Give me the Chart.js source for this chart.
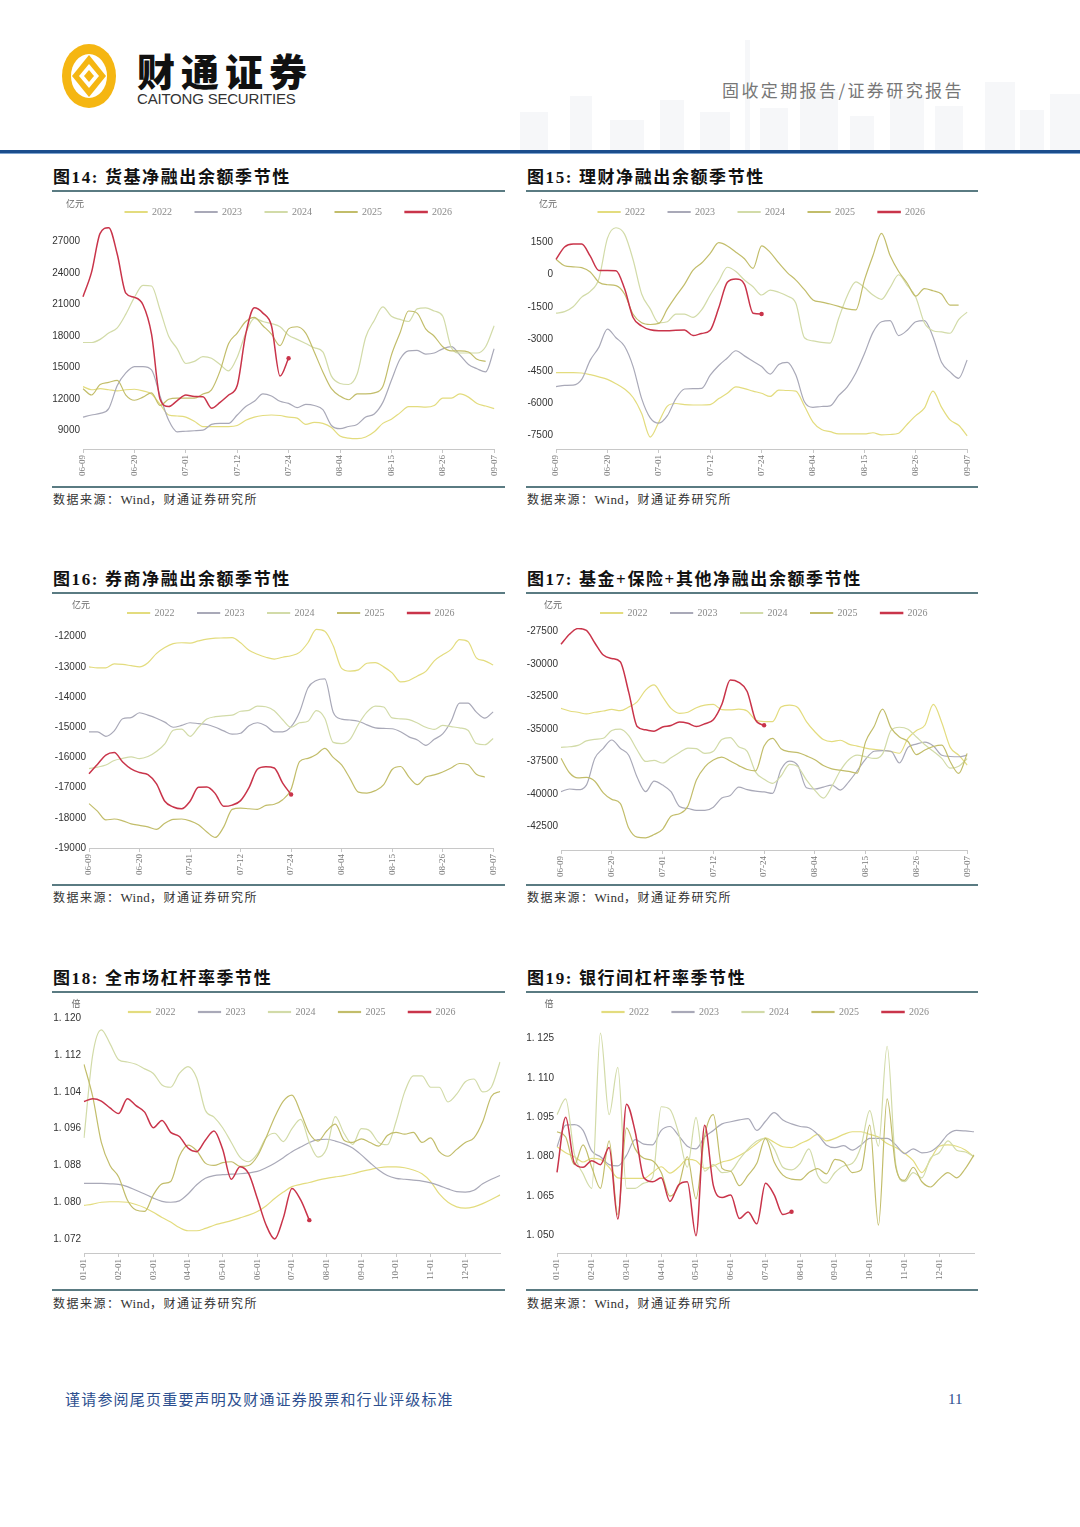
<!DOCTYPE html>
<html>
<head>
<meta charset="utf-8">
<script src="https://cdn.jsdelivr.net/npm/chart.js@4.4.1/dist/chart.umd.min.js"></script>
<style>
  body { margin: 0; background: #fff; }
  #page { position: relative; width: 1080px; height: 1527px; overflow: hidden; background: #fff;
          font-family: "Liberation Serif", "Noto Sans CJK SC", serif; }
  .abs { position: absolute; }
  .title { font-size: 17px; font-weight: 700; color: #111; letter-spacing: 1.6px; line-height: 20px; white-space: nowrap; }
  .rule { height: 1.5px; background: #5a7b82; }
  .src { font-size: 12px; color: #333; letter-spacing: 1.5px; line-height: 14px; white-space: nowrap; }
  .src span { letter-spacing: 0.3px; font-size: 13px; }
  .bld { background: #f6f7f9; }
  canvas { position: absolute; }
</style>
</head>
<body>
<div id="page">
  <!-- header -->
  <div id="sky"></div>
  <svg class="abs" style="left:60px;top:42px" width="58" height="68" viewBox="0 0 58 68">
    <ellipse cx="29" cy="34" rx="27" ry="32" fill="#f5b612"/>
    <ellipse cx="29" cy="34" rx="18" ry="22" fill="#fff"/>
    <path d="M29 13 L46 34 L29 55 L12 34Z" fill="#f5b612"/>
    <path d="M29 22 L39 34 L29 46 L19 34Z" fill="#fff"/>
    <path d="M29 28 L34 34 L29 40 L24 34Z" fill="#f5b612"/>
  </svg>
  <div class="abs" style="left:137px;top:50px;font-size:38px;line-height:40px;font-weight:900;letter-spacing:6px;color:#111;font-family:'Noto Sans CJK SC'">财通证券</div>
  <div class="abs" style="left:137px;top:91px;font-size:15px;line-height:16px;color:#333;letter-spacing:-0.2px;font-family:'Liberation Sans'">CAITONG SECURITIES</div>
  <div class="abs" style="left:722px;top:80px;font-size:17px;line-height:20px;color:#777;letter-spacing:2.4px;font-family:'Noto Sans CJK SC'">固收定期报告/证券研究报告</div>
  <div class="abs" style="left:0;top:150px;width:1080px;height:3px;background:#1b4d8c"></div>
  <div class="abs" style="left:0;top:153px;width:1080px;height:1px;background:#7ea3cf"></div>

  <!-- panel frames -->
  <div class="abs title" style="left:53px;top:168px">图14: 货基净融出余额季节性</div>
  <div class="abs rule" style="left:52px;top:190px;width:453px"></div>
  <div class="abs rule" style="left:52px;top:486px;width:453px"></div>
  <div class="abs src" style="left:53px;top:493px">数据来源：<span>Wind</span>，财通证券研究所</div>

  <div class="abs title" style="left:527px;top:168px">图15: 理财净融出余额季节性</div>
  <div class="abs rule" style="left:526px;top:190px;width:452px"></div>
  <div class="abs rule" style="left:526px;top:486px;width:452px"></div>
  <div class="abs src" style="left:527px;top:493px">数据来源：<span>Wind</span>，财通证券研究所</div>

  <div class="abs title" style="left:53px;top:570px">图16: 券商净融出余额季节性</div>
  <div class="abs rule" style="left:52px;top:592px;width:453px"></div>
  <div class="abs rule" style="left:52px;top:884px;width:453px"></div>
  <div class="abs src" style="left:53px;top:891px">数据来源：<span>Wind</span>，财通证券研究所</div>

  <div class="abs title" style="left:527px;top:570px">图17: 基金+保险+其他净融出余额季节性</div>
  <div class="abs rule" style="left:526px;top:592px;width:452px"></div>
  <div class="abs rule" style="left:526px;top:884px;width:452px"></div>
  <div class="abs src" style="left:527px;top:891px">数据来源：<span>Wind</span>，财通证券研究所</div>

  <div class="abs title" style="left:53px;top:969px">图18: 全市场杠杆率季节性</div>
  <div class="abs rule" style="left:52px;top:991px;width:453px"></div>
  <div class="abs rule" style="left:52px;top:1289px;width:453px"></div>
  <div class="abs src" style="left:53px;top:1297px">数据来源：<span>Wind</span>，财通证券研究所</div>

  <div class="abs title" style="left:527px;top:969px">图19: 银行间杠杆率季节性</div>
  <div class="abs rule" style="left:526px;top:991px;width:452px"></div>
  <div class="abs rule" style="left:526px;top:1289px;width:452px"></div>
  <div class="abs src" style="left:527px;top:1297px">数据来源：<span>Wind</span>，财通证券研究所</div>

  <canvas id="c14" width="460" height="295" style="left:47px;top:184px"></canvas>
  <canvas id="c15" width="460" height="295" style="left:520px;top:184px"></canvas>
  <canvas id="c16" width="453" height="293" style="left:53px;top:585px"></canvas>
  <canvas id="c17" width="455" height="295" style="left:525px;top:585px"></canvas>
  <canvas id="c18" width="464" height="299" style="left:48px;top:984px"></canvas>
  <canvas id="c19" width="465" height="299" style="left:521px;top:984px"></canvas>

  <!-- footer -->
  <div class="abs" style="left:65px;top:1390px;font-size:15px;line-height:18px;color:#2d4f8f;letter-spacing:1.2px;font-family:'Noto Sans CJK SC'">谨请参阅尾页重要声明及财通证券股票和行业评级标准</div>
  <div class="abs" style="left:948px;top:1390px;font-size:15px;line-height:18px;color:#2d4f8f">11</div>
</div>

<script>
// ---- series meta ----
const YEARS = ['2022', '2023', '2024', '2025', '2026'];
const COLORS = ['#e3dc7e', '#a9a9b8', '#d2dba8', '#c2bd6a', '#c9344a'];

// ---- x-axis tick labels ----
const DATE_TICKS = ['06-09', '06-20', '07-01', '07-12', '07-24', '08-04', '08-15', '08-26', '09-07'];
const MONTH_TICKS = ['01-01', '02-01', '03-01', '04-01', '05-01', '06-01', '07-01', '08-01', '09-01', '10-01', '11-01', '12-01'];

// ---- y-axis tick values ----
const Y14 = [9000, 12000, 15000, 18000, 21000, 24000, 27000];
const Y15 = [-7500, -6000, -4500, -3000, -1500, 0, 1500];
const Y16 = [-19000, -18000, -17000, -16000, -15000, -14000, -13000, -12000];
const Y17 = [-42500, -40000, -37500, -35000, -32500, -30000, -27500];
const Y18 = [1.072, 1.080, 1.088, 1.096, 1.104, 1.112, 1.120];
const Y19 = [1.050, 1.065, 1.080, 1.095, 1.110, 1.125];

// ---- 图14 货基净融出余额 (亿元) ----
const c14_2022 = [13200,12900,13000,12900,12800,12900,12950,12800,12500,11500,10500,10400,10300,9900,9400,9400,9400,9400,9500,10000,10300,10450,10500,10450,10300,10200,9600,9800,9700,9300,8500,8300,8250,8400,8900,9700,10100,10700,11300,11300,11250,11400,12100,12100,12500,12200,11600,11350,11100];
const c14_2023 = [10300,10500,10650,11100,13300,14500,15100,15100,14800,12300,10000,8900,8950,9000,9050,9600,9700,9700,10500,11300,11800,12500,12300,11800,11600,11200,11500,11400,11000,9500,9200,9400,9600,10300,10600,11700,13800,15800,16600,16650,16300,16400,16800,17000,16200,15300,14900,14600,16800];
const c14_2024 = [17400,17400,17700,18300,18800,20100,21700,22850,22780,20500,18000,16800,15400,15600,16050,15900,15300,14700,16000,18300,19700,19400,19200,18900,18100,17700,17300,16900,16500,14200,13500,13400,14400,17900,19500,20800,19900,19600,19400,20600,20700,20400,19900,16900,16400,16400,16400,17000,19000];
const c14_2025 = [13000,12400,13400,13600,13800,12400,11900,12200,12600,11400,12000,12100,12100,12100,12500,12900,14700,17300,18300,19400,19800,19000,18200,17100,18700,18900,18300,16500,14600,13000,12300,11950,12500,12500,12600,13200,16200,18300,20400,20200,18700,18000,17000,16600,16600,16500,15800,15600,null];
const c14_2026 = [21760,24100,27800,28330,25800,22100,21700,21000,18200,12000,11300,11870,12400,12250,12240,11150,11700,12400,13300,18200,20700,20200,19000,14200,15900];

// ---- 图15 理财净融出余额 (亿元) ----
const c15_2022 = [-4580,-4580,-4580,-4600,-4680,-4780,-4900,-5100,-5350,-5750,-6500,-7600,-6900,-6150,-6030,-6080,-6100,-6100,-6080,-5800,-5550,-5250,-5330,-5450,-5550,-5700,-5400,-5420,-5450,-6150,-6900,-7250,-7350,-7450,-7450,-7450,-7450,-7400,-7500,-7480,-7420,-7000,-6600,-6250,-5450,-6200,-6800,-7050,-7550];
const c15_2023 = [-5240,-5180,-5170,-4900,-4000,-3400,-2550,-2950,-3350,-4300,-5800,-6700,-6950,-6600,-5800,-5350,-5330,-5320,-4700,-4250,-3900,-3560,-3800,-4050,-4300,-4650,-4200,-4100,-4700,-5950,-6210,-6170,-6140,-5650,-5250,-4600,-3700,-2700,-2200,-2150,-2850,-2600,-2200,-2150,-2900,-4100,-4550,-4850,-3990];
const c15_2024 = [-1800,-1730,-1500,-1050,-780,-200,1700,2200,1900,700,-900,-1600,-2250,-2200,-1840,-1840,-2000,-1650,-950,-300,350,150,-250,-560,-950,-720,-820,-1000,-1340,-2950,-3100,-3170,-3200,-2040,-980,-330,-600,-950,-1150,-600,0,-500,-1050,-2250,-2620,-2680,-2740,-2100,-1750];
const c15_2025 = [720,420,370,330,130,-350,-470,-510,-900,-1850,-2250,-2330,-2280,-1600,-1000,-450,220,550,1000,1500,1350,1050,750,300,1350,1050,550,100,-250,-700,-1180,-1280,-1370,-1480,-1600,-1650,-250,900,1940,900,150,-400,-1000,-650,-750,-900,-1420,-1420,null];
const c15_2026 = [720,1300,1440,1440,870,200,200,190,-650,-2000,-2400,-2580,-2620,-2620,-2600,-2590,-2850,-2750,-2600,-1550,-350,-200,-450,-1800,-1840];

// ---- 图16 券商净融出余额 (亿元) ----
const c16_2022 = [-13000,-13030,-13030,-12900,-12920,-12960,-13000,-12860,-12560,-12360,-12230,-12200,-12210,-12140,-12080,-12050,-12040,-12030,-12200,-12450,-12580,-12680,-12740,-12680,-12630,-12520,-12200,-11760,-11820,-12300,-13050,-13140,-13100,-12880,-12860,-13000,-13200,-13500,-13450,-13300,-13150,-12800,-12600,-12420,-12100,-12160,-12700,-12800,-12940];
const c16_2023 = [-15150,-15150,-15300,-15120,-14720,-14680,-14520,-14600,-14700,-14830,-15000,-14940,-14850,-14880,-14910,-15000,-15120,-15230,-15200,-14950,-14850,-14950,-15150,-15150,-14980,-14500,-13700,-13450,-13400,-14500,-14730,-14760,-14800,-14920,-15020,-15040,-15050,-15150,-15320,-15420,-15600,-15400,-15220,-14800,-14200,-14200,-14500,-14700,-14490];
const c16_2024 = [-16370,-16320,-16250,-16100,-16030,-15980,-16040,-15970,-15800,-15550,-15100,-15060,-15300,-15000,-14730,-14650,-14620,-14600,-14470,-14440,-14300,-14320,-14450,-14750,-15000,-14850,-14800,-14450,-14700,-15500,-15540,-15400,-14900,-14500,-14300,-14330,-14690,-14720,-14750,-14860,-15000,-15070,-14940,-14980,-15020,-15100,-15540,-15580,-15370];
const c16_2025 = [-17530,-17780,-18070,-18040,-18100,-18200,-18250,-18300,-18380,-18180,-18050,-18040,-18100,-18230,-18470,-18650,-18300,-17720,-17680,-17700,-17720,-17590,-17550,-17400,-17050,-16140,-16030,-15900,-15700,-16000,-16250,-16700,-17150,-17180,-17100,-16900,-16400,-16300,-16650,-16900,-16650,-16580,-16480,-16350,-16200,-16240,-16560,-16650,null];
const c16_2026 = [-16540,-16230,-15920,-15840,-16150,-16380,-16500,-16570,-16870,-17450,-17640,-17700,-17450,-16990,-16980,-17200,-17620,-17580,-17430,-17000,-16390,-16310,-16350,-16850,-17230];

// ---- 图17 基金+保险+其他净融出余额 (亿元) ----
const c17_2022 = [-33400,-33600,-33700,-33830,-33700,-33600,-33480,-33580,-33300,-32900,-32000,-31600,-32500,-33400,-33780,-33700,-33350,-33150,-33100,-33500,-33520,-33460,-33600,-34300,-34420,-34420,-33300,-33150,-33350,-34420,-35200,-35800,-35950,-35850,-36150,-36300,-36450,-36550,-36620,-36720,-36850,-35700,-35100,-34700,-33100,-34500,-36400,-37000,-37760];
const c17_2023 = [-39800,-39600,-39650,-39300,-37240,-36470,-35830,-36470,-37000,-38700,-39800,-39000,-39300,-39810,-40950,-41100,-41250,-41250,-41000,-40300,-40100,-39450,-39650,-39770,-39820,-39940,-38100,-37450,-37800,-39500,-39600,-39450,-39300,-39680,-39050,-38200,-37300,-36700,-36650,-36700,-37600,-36400,-36150,-36000,-36300,-37000,-37100,-37120,-37000];
const c17_2024 = [-36400,-36350,-36250,-35900,-35780,-35700,-35100,-35000,-35500,-36600,-37480,-37400,-37600,-37200,-36800,-36450,-36500,-36860,-36700,-35800,-35650,-36350,-36700,-38300,-38850,-39170,-38600,-37700,-37900,-38900,-39700,-40300,-39400,-38200,-37350,-37000,-37120,-37250,-36900,-35100,-34850,-35000,-35600,-36200,-36700,-37250,-38000,-37850,-37250];
const c17_2025 = [-37240,-38350,-38750,-38700,-39000,-39900,-40400,-40700,-42600,-43300,-43350,-43100,-42700,-41700,-41500,-40900,-38900,-37900,-37370,-37150,-37450,-37800,-38100,-38200,-36300,-35700,-36500,-36730,-36800,-37050,-37350,-37800,-38050,-38150,-38250,-38380,-35960,-34800,-33460,-34900,-35600,-35950,-36950,-36600,-36330,-36220,-37500,-38400,-36860];
const c17_2026 = [-28470,-27700,-27260,-27400,-28370,-29300,-29560,-29810,-32150,-34800,-35050,-35150,-34830,-34720,-34450,-34550,-34800,-34580,-34270,-33100,-31220,-31400,-32100,-34300,-34700];

// ---- 图18 全市场杠杆率 (倍) ----
const c18_2022 = [1.0793,1.0796,1.0800,1.0801,1.0801,1.0800,1.0795,1.0788,1.0778,1.0767,1.0757,1.0745,1.0738,1.0738,1.0743,1.0750,1.0755,1.0760,1.0766,1.0772,1.0780,1.0792,1.0808,1.0822,1.0834,1.0839,1.0843,1.0848,1.0852,1.0855,1.0858,1.0862,1.0867,1.0871,1.0875,1.0877,1.0877,1.0875,1.0870,1.0862,1.0845,1.0818,1.0800,1.0790,1.0787,1.0790,1.0797,1.0806,1.0816];
const c18_2023 = [1.0841,1.0841,1.0841,1.0840,1.0839,1.0834,1.0826,1.0818,1.0809,1.0802,1.0800,1.0803,1.0818,1.0838,1.0852,1.0858,1.0860,1.0861,1.0862,1.0864,1.0867,1.0875,1.0885,1.0897,1.0910,1.0920,1.0930,1.0936,1.0937,1.0933,1.0927,1.0918,1.0903,1.0886,1.0870,1.0858,1.0852,1.0850,1.0848,1.0846,1.0842,1.0836,1.0829,1.0823,1.0822,1.0826,1.0840,1.0850,1.0858];
const c18_2024 = [1.0940,1.1120,1.1175,1.1145,1.1110,1.1105,1.1100,1.1090,1.1080,1.1055,1.1050,1.1080,1.1095,1.1070,1.1000,1.0985,1.0962,1.0930,1.0898,1.0888,1.0905,1.0940,1.0950,1.0932,1.0960,1.0980,1.0930,1.0898,1.0917,1.0986,1.0950,1.0926,1.0960,1.0955,1.0930,1.0925,1.0975,1.1040,1.1075,1.1075,1.1050,1.1050,1.1018,1.1035,1.1062,1.1068,1.1040,1.1050,1.1105];
const c18_2025 = [1.1100,1.1030,1.0930,1.0880,1.0855,1.0805,1.0783,1.0780,1.0816,1.0840,1.0845,1.0900,1.0924,1.0912,1.0885,1.0880,1.0886,1.0888,1.0878,1.0880,1.0900,1.0940,1.0985,1.1020,1.1033,1.0995,1.0950,1.0933,1.0955,1.0970,1.0935,1.0930,1.0938,1.0930,1.0922,1.0945,1.0952,1.0948,1.0952,1.0930,1.0940,1.0910,1.0900,1.0915,1.0930,1.0940,1.0975,1.1030,1.1041];
const c18_2026 = [1.1019,1.1025,1.1020,1.1005,1.0993,1.1025,1.1010,1.0996,1.0962,1.0978,1.0952,1.0943,1.0918,1.0910,1.0935,1.0955,1.0915,1.0850,1.0877,1.0862,1.0808,1.0751,1.0720,1.0766,1.0830,1.0805,1.0761];

// ---- 图19 银行间杠杆率 (倍) ----
const c19_2022 = [1.0838,1.0815,1.0800,1.0780,1.0794,1.0790,1.0760,1.0720,1.0718,1.0718,1.0718,1.0740,1.0762,1.0738,1.0760,1.0790,1.0785,1.0756,1.0765,1.0780,1.0788,1.0805,1.0825,1.0850,1.0872,1.0855,1.0838,1.0835,1.0850,1.0865,1.0885,1.0860,1.0870,1.0885,1.0895,1.0895,1.0885,1.0875,1.0850,1.0835,1.0813,1.0785,1.0740,1.0790,1.0840,1.0845,1.0840,1.0826,1.0800];
const c19_2023 = [1.0838,1.0920,1.0922,1.0900,1.0822,1.0800,1.0770,1.0765,1.0805,1.0865,1.0848,1.0845,1.0900,1.0915,1.0880,1.0840,1.0830,1.0875,1.0900,1.0925,1.0933,1.0940,1.0945,1.0900,1.0935,1.0968,1.0940,1.0925,1.0915,1.0910,1.0885,1.0845,1.0835,1.0842,1.0825,1.0845,1.0870,1.0870,1.0870,1.0845,1.0812,1.0830,1.0815,1.0820,1.0845,1.0885,1.0900,1.0898,1.0895];
const c19_2024 = [1.0960,1.1020,1.0810,1.0735,1.0680,1.1270,1.0960,1.1140,1.0680,1.0680,1.0700,1.0720,1.0990,1.0980,1.0890,1.0760,1.0950,1.0745,1.0770,1.0740,1.0745,1.0790,1.0830,1.0860,1.0870,1.0830,1.0760,1.0750,1.0775,1.0830,1.0730,1.0700,1.0740,1.0765,1.0775,1.0840,1.0975,1.0840,1.1220,1.0770,1.0705,1.0740,1.0720,1.0795,1.0815,1.0860,1.0825,1.0818,1.0800];
const c19_2025 = [1.0895,1.0875,1.0770,1.0845,1.0760,1.0680,1.0860,1.0580,1.0910,1.0830,1.0794,1.0785,1.0740,1.0650,1.0690,1.0800,1.0640,1.0880,1.0960,1.0756,1.0745,1.0690,1.0730,1.0775,1.0870,1.0780,1.0730,1.0715,1.0712,1.0740,1.0755,1.0735,1.0790,1.0780,1.0740,1.0750,1.0920,1.0540,1.1020,1.0760,1.0710,1.0760,1.0705,1.0685,1.0715,1.0740,1.0720,1.0755,1.0807];
const c19_2026 = [1.0741,1.0950,1.0775,1.0760,1.0785,1.0770,1.0835,1.0563,1.1000,1.0895,1.0720,1.0705,1.0720,1.0630,1.0693,1.0705,1.0500,1.0920,1.0690,1.0645,1.0655,1.0565,1.0590,1.0545,1.0699,1.0655,1.0580,1.0591];

// category labels: tick text every `step` points, blank in between
function spreadLabels(ticks, step, n) {
  const out = new Array(n).fill('');
  ticks.forEach((t, i) => { out[i * step] = t; });
  return out;
}
const DATE_LABELS = spreadLabels(DATE_TICKS, 6, 49);
const MONTH_LABELS = spreadLabels(MONTH_TICKS, 4, 49);

const fmtInt = v => String(v);
const fmtLev = v => v.toFixed(3).replace('.', '. ');

// small unit caption above the y axis (亿元 / 倍)
const unitLabel = {
  id: 'unitLabel',
  afterDraw(chart, args, opts) {
    const ctx = chart.ctx;
    ctx.save();
    ctx.font = '9px "Noto Sans CJK SC"';
    ctx.fillStyle = '#666';
    ctx.textAlign = 'center';
    ctx.textBaseline = 'middle';
    ctx.fillText(opts.text, opts.x, opts.y);
    ctx.restore();
  }
};

// fix the legend block height so the plot top lands where the original has it
const legendHeight = {
  id: 'legendHeight',
  beforeUpdate(chart, args, opts) {
    const lg = chart.legend;
    if (!lg || lg._fixedH) return;
    const fit = lg.fit;
    lg.fit = function () { fit.call(this); this.height = opts.h; };
    lg._fixedH = true;
  }
};

function seasonChart(id, labels, series, yMin, yMax, yTicks, fmt, unit, legH) {
  const datasets = series.map((data, k) => {
    const last = data.length - 1;
    return {
      label: YEARS[k],
      data: data,
      borderColor: COLORS[k],
      backgroundColor: COLORS[k],
      borderWidth: k === 4 ? 1.5 : 1.2,
      pointRadius: k === 4 ? data.map((v, i) => (i === last ? 2.2 : 0)) : 0,
      pointHoverRadius: 0,
      pointBorderWidth: 0,
      pointBackgroundColor: COLORS[k],
      cubicInterpolationMode: 'monotone',
      fill: false,
      order: 4 - k
    };
  });

  new Chart(document.getElementById(id), {
    type: 'line',
    data: { labels: labels, datasets: datasets },
    options: {
      responsive: false,
      animation: false,
      layout: { padding: { left: 0, right: 12, top: 0, bottom: 0 } },
      plugins: {
        tooltip: { enabled: false },
        legend: {
          position: 'top',
          fullSize: false,
          labels: {
            boxWidth: 22,
            boxHeight: 1,
            padding: 23,
            color: '#8a8a8a',
            font: { family: 'Liberation Serif', size: 10 },
            sort: (a, b) => a.datasetIndex - b.datasetIndex
          }
        },
        unitLabel: { text: unit, x: 28, y: 20 },
        legendHeight: { h: legH }
      },
      scales: {
        x: {
          type: 'category',
          grid: { display: true, drawOnChartArea: false, drawTicks: true, tickLength: 4, color: '#c8c8c8' },
          border: { display: true, color: '#c8c8c8' },
          ticks: {
            autoSkip: false, minRotation: 90, maxRotation: 90, padding: 2,
            color: '#777', font: { family: 'Liberation Serif', size: 9 }
          },
          afterBuildTicks: s => { s.ticks = s.ticks.filter(t => labels[t.value] !== ''); },
          afterFit: s => { s.height = 30; }
        },
        y: {
          min: yMin,
          max: yMax,
          grid: { display: false, drawTicks: false },
          border: { display: false },
          ticks: { padding: 3, color: '#333', font: { family: 'Liberation Sans', size: 10 }, callback: fmt },
          afterBuildTicks: s => { s.ticks = yTicks.map(v => ({ value: v })); },
          afterFit: s => { s.width = 36; }
        }
      }
    },
    plugins: [unitLabel, legendHeight]
  });
}

seasonChart('c14', DATE_LABELS, [c14_2022, c14_2023, c14_2024, c14_2025, c14_2026], 7260, 28400, Y14, fmtInt, '亿元', 43);
seasonChart('c15', DATE_LABELS, [c15_2022, c15_2023, c15_2024, c15_2025, c15_2026], -8160, 2235, Y15, fmtInt, '亿元', 43);
seasonChart('c16', DATE_LABELS, [c16_2022, c16_2023, c16_2024, c16_2025, c16_2026], -19000, -11712, Y16, fmtInt, '亿元', 43);
seasonChart('c17', DATE_LABELS, [c17_2022, c17_2023, c17_2024, c17_2025, c17_2026], -44290, -27220, Y17, fmtInt, '亿元', 43);
seasonChart('c18', MONTH_LABELS, [c18_2022, c18_2023, c18_2024, c18_2025, c18_2026], 1.06896, 1.1205, Y18, fmtLev, '倍', 32);
seasonChart('c19', MONTH_LABELS, [c19_2022, c19_2023, c19_2024, c19_2025, c19_2026], 1.04341, 1.1335, Y19, fmtLev, '倍', 32);

// faint skyline behind the header
const SKY = [[520,28,112],[570,22,96],[610,34,120],[660,24,100],[700,30,112],[745,5,40],[760,28,108],[800,38,92],[850,24,116],[890,34,96],[935,28,106],[985,30,82],[1020,24,110],[1050,30,94]];
const sky = document.getElementById('sky');
SKY.forEach(([x, w, t]) => {
  const d = document.createElement('div');
  d.className = 'abs bld';
  d.style.cssText = `left:${x}px;top:${t}px;width:${w}px;height:${150 - t}px;`;
  sky.appendChild(d);
});
</script>
</body>
</html>
